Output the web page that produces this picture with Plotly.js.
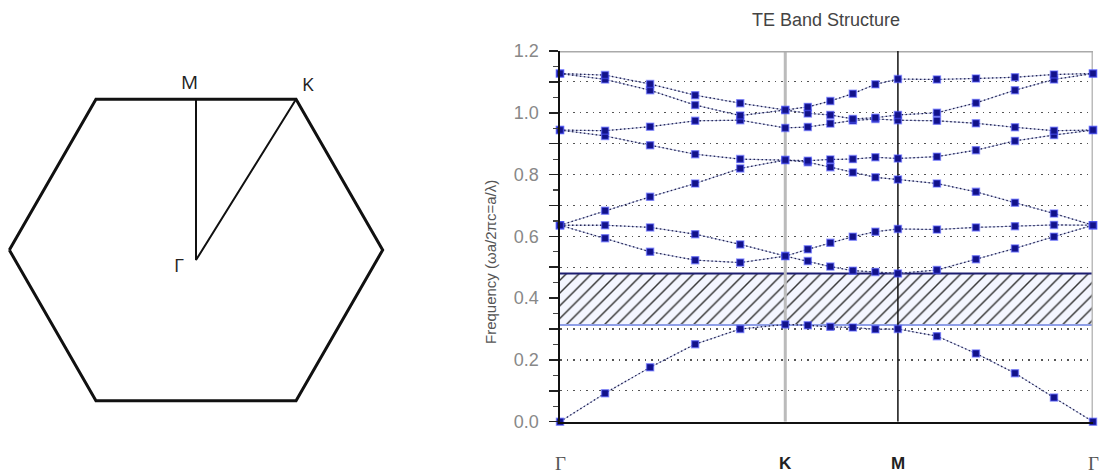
<!DOCTYPE html>
<html>
<head>
<meta charset="utf-8">
<script src="https://cdn.plot.ly/plotly-3.0.1.min.js"></script>
<style>html,body{margin:0;padding:0;background:#fff;}#chart{width:1102px;height:476px;}</style>
</head>
<body>
<div id="chart"></div>
<script>
// ---- Band structure data (path coordinate along Γ-K-M-Γ) ----
const kpts = [0, 0.2667, 0.5333, 0.8, 1.0667, 1.3333, 1.4667, 1.6, 1.7333, 1.8667, 2.0, 2.2309, 2.4619, 2.6928, 2.9238, 3.1547];
const kLabels = ['Γ', 'K', 'M', 'Γ'];
const kLabelIdx = [0, 5, 10, 15];

const band1 = [0, 0.092, 0.176, 0.251, 0.300, 0.315, 0.312, 0.307, 0.305, 0.299, 0.300, 0.277, 0.221, 0.157, 0.078, 0];
const band2 = [0.636, 0.594, 0.550, 0.523, 0.515, 0.536, 0.520, 0.502, 0.489, 0.485, 0.480, 0.491, 0.526, 0.561, 0.599, 0.636];
const band3 = [0.636, 0.636, 0.629, 0.607, 0.574, 0.536, 0.558, 0.579, 0.599, 0.615, 0.624, 0.622, 0.629, 0.633, 0.637, 0.636];
const band4 = [0.636, 0.683, 0.728, 0.771, 0.820, 0.847, 0.840, 0.824, 0.807, 0.791, 0.784, 0.771, 0.744, 0.709, 0.674, 0.636];
const band5 = [0.944, 0.925, 0.895, 0.866, 0.850, 0.847, 0.845, 0.849, 0.850, 0.856, 0.852, 0.858, 0.879, 0.909, 0.928, 0.944];
const band6 = [0.944, 0.942, 0.955, 0.974, 0.976, 0.951, 0.954, 0.965, 0.975, 0.980, 0.976, 0.974, 0.966, 0.953, 0.942, 0.944];
const band7 = [1.127, 1.108, 1.073, 1.025, 0.991, 1.009, 0.998, 0.993, 0.980, 0.984, 0.993, 1.000, 1.032, 1.073, 1.108, 1.127];
const band8 = [1.127, 1.122, 1.093, 1.057, 1.031, 1.009, 1.019, 1.038, 1.062, 1.092, 1.109, 1.108, 1.111, 1.115, 1.124, 1.127];
const bands = [band1, band2, band3, band4, band5, band6, band7, band8];

const gapEdges = [0.313, 0.480];   // photonic band gap (lower, upper)

const yTickVals = [0, 0.1, 0.2, 0.3, 0.4, 0.5, 0.6, 0.7, 0.8, 0.9, 1.0, 1.1, 1.2];
const yTickText = ['0.0', '', '0.2', '', '0.4', '', '0.6', '', '0.8', '', '1.0', '', '1.2'];

// ---- Brillouin zone drawing data ----
const hexX = [-1, -0.536, 0.536, 1, 0.536, -0.536, -1];
const hexY = [0, 0.807, 0.807, 0, -0.807, -0.807, 0];
const pathNames = ['M', 'Γ', 'K'];
const pathX = [0, 0, 0.536];
const pathY = [0.807, -0.054, 0.807];

const traces = [];
const xEnds = [kpts[0], kpts[kpts.length - 1]];

// band gap (hatched)
traces.push({
  x: xEnds, y: [gapEdges[0], gapEdges[0]],
  mode: 'lines', line: {color: '#8f9fe8', width: 2}, hoverinfo: 'skip', showlegend: false
});
traces.push({
  x: xEnds, y: [gapEdges[1], gapEdges[1]],
  mode: 'lines', line: {color: '#1c1c70', width: 2}, fill: 'tonexty',
  fillcolor: 'rgba(244,246,255,1)',
  fillpattern: {shape: '/', fgcolor: '#333333', bgcolor: 'rgba(244,246,255,1)', size: 9, solidity: 0.16},
  hoverinfo: 'skip', showlegend: false
});

// vertical reference lines at K, M and the right Γ edge (drawn as traces from the k path)
traces.push({x: [kpts[5], kpts[5]], y: [yTickVals[0], yTickVals[12]], mode: 'lines', line: {color: '#bbbbbb', width: 3}, hoverinfo: 'skip', showlegend: false});
traces.push({x: [kpts[15], kpts[15]], y: [yTickVals[0], yTickVals[12]], mode: 'lines', line: {color: '#bbbbbb', width: 3}, hoverinfo: 'skip', showlegend: false});
traces.push({x: [kpts[0], kpts[15]], y: [yTickVals[12], yTickVals[12]], mode: 'lines', line: {color: '#aaaaaa', width: 3}, hoverinfo: 'skip', showlegend: false});
traces.push({x: [kpts[10], kpts[10]], y: [yTickVals[0], yTickVals[12]], mode: 'lines', line: {color: '#111111', width: 1.5}, hoverinfo: 'skip', showlegend: false});

// band lines: light solid underlay + dark dotted overlay
bands.forEach(b => {
  traces.push({x: kpts, y: b, mode: 'lines', line: {color: 'rgba(160,170,215,0.8)', width: 1}, hoverinfo: 'skip', showlegend: false});
});
bands.forEach(b => {
  traces.push({x: kpts, y: b, mode: 'lines', line: {color: '#222250', width: 1.3, dash: '1.5px,2.5px'}, hoverinfo: 'skip', showlegend: false});
});
// markers
bands.forEach(b => {
  traces.push({x: kpts, y: b, mode: 'markers', cliponaxis: false,
    marker: {symbol: 'square', size: 7, color: '#12128a', line: {color: 'rgba(80,90,255,0.55)', width: 1.5}},
    showlegend: false});
});

// Brillouin zone hexagon
traces.push({x: hexX, y: hexY, xaxis: 'x2', yaxis: 'y2', mode: 'lines',
  line: {color: '#111', width: 3}, hoverinfo: 'skip', showlegend: false});
traces.push({x: pathX, y: pathY, xaxis: 'x2', yaxis: 'y2', mode: 'lines',
  line: {color: '#111', width: 2}, hoverinfo: 'skip', showlegend: false});

const annotations = [];
// axis title
annotations.push({text: 'Frequency (ωa/2πc=a/λ)', xref: 'paper', yref: 'paper', x: 490 / 1102, y: 1 - 262 / 476,
  xanchor: 'center', yanchor: 'middle',
  textangle: -90, showarrow: false, font: {family: 'Liberation Sans, Arial', size: 15, color: '#555'}});
// k-point labels
kLabelIdx.forEach((idx, i) => {
  const isGamma = kLabels[i] === 'Γ';
  annotations.push({
    text: isGamma ? 'Γ' : '<b>' + kLabels[i] + '</b>',
    xref: 'x', yref: 'paper', x: kpts[idx], y: 1 - 463 / 476, xanchor: 'center', yanchor: 'middle', showarrow: false,
    font: isGamma ? {family: 'Liberation Serif, Times New Roman, serif', size: 19, color: '#555'}
                  : {family: 'Liberation Sans, Arial', size: 17, color: '#222'}
  });
});
// hexagon labels
const hexShift = {M: [-7, 17], K: [12, 15], 'Γ': [-17, -5]};
pathNames.forEach((n, i) => {
  annotations.push({text: n, xref: 'x2', yref: 'y2', x: pathX[i], y: pathY[i], showarrow: false,
    xanchor: 'center', yanchor: 'middle',
    xshift: hexShift[n][0], yshift: hexShift[n][1],
    font: {family: 'Open Sans, Liberation Sans', size: 19, color: '#222'}});
});

const layout = {
  width: 1102, height: 476,
  margin: {l: 0, r: 0, t: 0, b: 0},
  paper_bgcolor: '#fff', plot_bgcolor: '#fff',
  showlegend: false,
  title: {text: 'TE Band Structure', x: 826 / 1102, xanchor: 'center', xref: 'paper', y: 1 - 20 / 476, yanchor: 'middle', yref: 'paper',
    font: {family: 'Liberation Sans, Arial', size: 18, color: '#444'}},
  xaxis: {domain: [560 / 1102, 1093 / 1102], range: [kpts[0], kpts[15]], showgrid: false, zeroline: false,
    showline: true, linecolor: '#111', linewidth: 2, showticklabels: false, ticks: '', fixedrange: true},
  yaxis: {domain: [54.3 / 476, 425 / 476], range: [0, 1.2], tickmode: 'array', tickvals: yTickVals, ticktext: yTickText,
    ticks: 'outside', ticklen: 9, tickwidth: 1.5, tickcolor: '#222', ticklabelstandoff: 6,
    showline: true, linecolor: '#111', linewidth: 2.5, zeroline: false,
    showgrid: true, gridcolor: '#555', gridwidth: 1.2, griddash: '1.5px,5px',
    tickfont: {family: 'Liberation Sans, Arial', size: 18, color: '#888'},
    minor: {tickmode: 'linear', tick0: 0, dtick: 0.05, ticks: 'outside', ticklen: 5, tickwidth: 1.2, tickcolor: '#444', showgrid: false},
    fixedrange: true},
  xaxis2: {domain: [0, 392 / 1102], range: [-1.05, 1.05], visible: false, anchor: 'y2', fixedrange: true},
  yaxis2: {domain: [(476 - 410.6) / 476, (476 - 89.4) / 476], range: [-0.86, 0.86], visible: false, anchor: 'x2', fixedrange: true},
  annotations: annotations
};

Plotly.newPlot('chart', traces, layout, {displayModeBar: false, staticPlot: true});
</script>
</body>
</html>
